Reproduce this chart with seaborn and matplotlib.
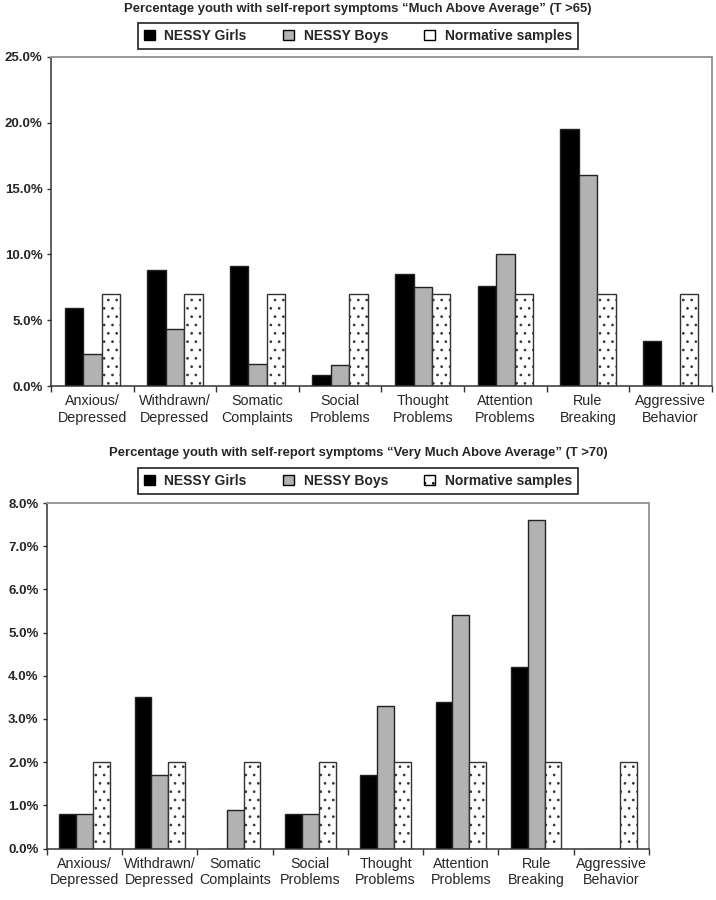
import numpy as np
import pandas as pd
import matplotlib
matplotlib.use("Agg")
import matplotlib.pyplot as plt
import seaborn as sns
from matplotlib.patches import Patch
from matplotlib.ticker import PercentFormatter, FixedLocator

# data (percent of youth)
categories = ["Anxious/\nDepressed", "Withdrawn/\nDepressed", "Somatic\nComplaints",
              "Social\nProblems", "Thought\nProblems", "Attention\nProblems",
              "Rule\nBreaking", "Aggressive\nBehavior"]
groups = ["NESSY Girls", "NESSY Boys", "Normative samples"]

girls_65 = [5.9, 8.8, 9.1, 0.8, 8.5, 7.6, 19.5, 3.4]
boys_65 = [2.4, 4.3, 1.7, 1.6, 7.5, 10.0, 16.0, 0.0]
norm_65 = [7.0, 7.0, 7.0, 7.0, 7.0, 7.0, 7.0, 7.0]

girls_70 = [0.8, 3.5, 0.0, 0.8, 1.7, 3.4, 4.2, 0.0]
boys_70 = [0.8, 1.7, 0.9, 0.8, 3.3, 5.4, 7.6, 0.0]
norm_70 = [2.0, 2.0, 2.0, 2.0, 2.0, 2.0, 2.0, 2.0]

titles = ["Percentage youth with self-report symptoms \u201cMuch Above Average\u201d (T >65)",
          "Percentage youth with self-report symptoms \u201cVery Much Above Average\u201d (T >70)"]

colors = ["black", "#b2b2b2", "white"]

sns.set_style("white")
plt.rcParams["font.family"] = ["Liberation Sans", "DejaVu Sans"]
plt.rcParams["hatch.linewidth"] = 0.7
plt.rcParams["hatch.color"] = "#222222"


def long_df(g, b, n):
    rows = []
    for vals, grp in zip([g, b, n], groups):
        for c, v in zip(categories, vals):
            rows.append({"cat": c, "group": grp, "pct": v})
    return pd.DataFrame(rows)


fig = plt.figure(figsize=(7.16, 9.0), dpi=100)
ax1 = fig.add_axes([0.0712, 0.5711, 0.9232, 0.3656])
ax2 = fig.add_axes([0.0656, 0.0572, 0.8408, 0.3839])


def panel(ax, df, ymax, step, title, leg_y, title_y, hatch_legend):
    sns.barplot(data=df, x="cat", y="pct", hue="group", order=categories,
                hue_order=groups, palette=colors, width=0.67, gap=0,
                edgecolor="#222222", linewidth=1.0, ax=ax, legend=False)
    n = len(categories)
    for bar in ax.patches[2 * n:3 * n]:
        bar.set_hatch("..")
        bar.set_edgecolor("#333333")
    ax.set_xlim(-0.5, n - 0.5)
    ax.set_ylim(0, ymax)
    ax.yaxis.set_major_locator(FixedLocator(np.arange(0, ymax + 0.01, step)))
    ax.yaxis.set_major_formatter(PercentFormatter(xmax=100, decimals=1))
    ax.set_xlabel("")
    ax.set_ylabel("")
    ax.xaxis.set_minor_locator(FixedLocator(np.arange(-0.5, n, 1.0)))
    ax.tick_params(axis="x", which="major", length=0, pad=6, labelsize=10.3)
    ax.tick_params(axis="x", which="minor", length=4, width=1, direction="out",
                   bottom=True, color="#333333")
    ax.tick_params(axis="y", length=3, width=1, direction="out", left=True,
                   labelsize=9.5, color="#333333", pad=3)
    for lab in ax.get_yticklabels():
        lab.set_fontweight("bold")
    for s in ["left", "bottom"]:
        ax.spines[s].set_color("#333333")
        ax.spines[s].set_linewidth(1.1)
    for s in ["top", "right"]:
        ax.spines[s].set_color("#999999")
        ax.spines[s].set_linewidth(1.4)
    fig.text(0.5, title_y, title, ha="center", va="center", fontsize=9.4,
             fontweight="bold")
    handles = [Patch(facecolor=colors[0], edgecolor="black"),
               Patch(facecolor=colors[1], edgecolor="black"),
               Patch(facecolor=colors[2], edgecolor="black",
                     hatch=".." if hatch_legend else None)]
    leg = fig.legend(handles, groups, loc="center", bbox_to_anchor=(0.5, leg_y),
                     ncol=3, frameon=True, fancybox=False, edgecolor="black",
                     prop={"weight": "bold", "size": 10}, handlelength=0.8,
                     handleheight=0.8, columnspacing=2.6, handletextpad=0.7,
                     borderpad=0.4, borderaxespad=0)
    leg.get_frame().set_linewidth(1.3)


panel(ax1, long_df(girls_65, boys_65, norm_65), 25, 5, titles[0],
      1 - 36 / 900, 1 - 9 / 900, False)
panel(ax2, long_df(girls_70, boys_70, norm_70), 8, 1, titles[1],
      1 - 481 / 900, 1 - 453 / 900, True)

fig.savefig("out.png", dpi=100)
